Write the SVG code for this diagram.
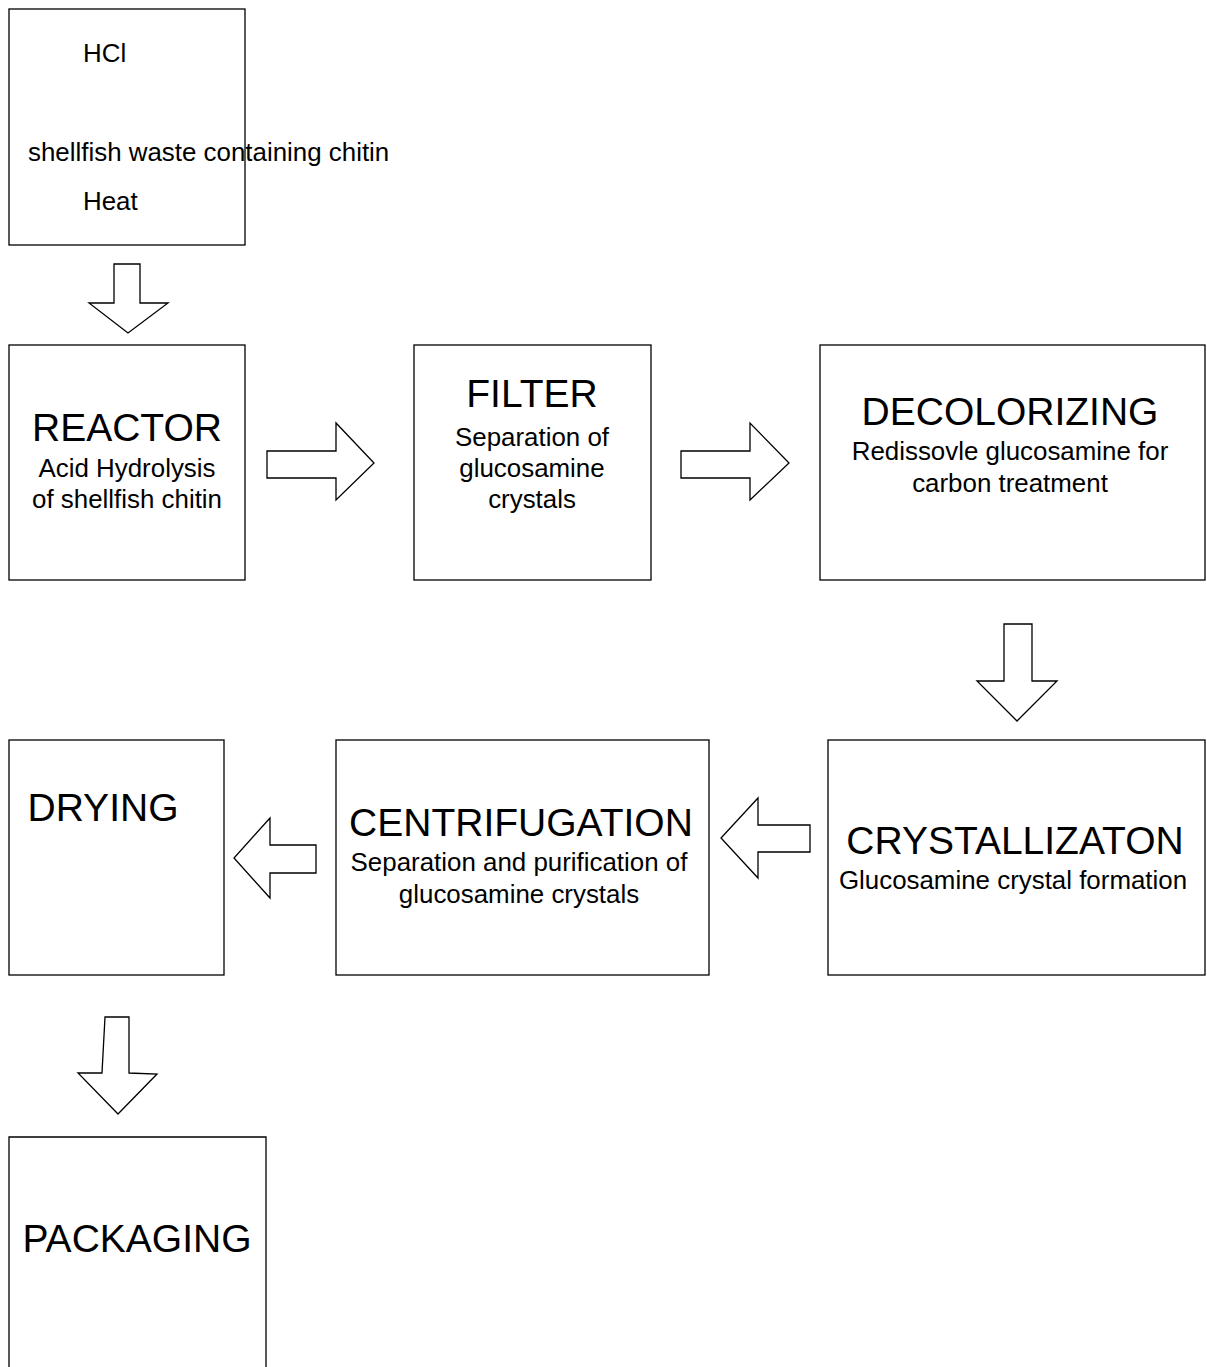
<svg xmlns="http://www.w3.org/2000/svg" width="1207" height="1367" viewBox="0 0 1207 1367">
<style>
.box{fill:#fff;stroke:#000;stroke-width:1.3}
.arr{fill:#fff;stroke:#000;stroke-width:1.3;stroke-linejoin:miter}
text{font-family:"Liberation Sans",Arial,sans-serif;fill:#000}
.t{font-size:39px;text-anchor:middle}
.s{font-size:25.9px;text-anchor:middle}
.l{font-size:25.9px}
</style>
<rect width="1207" height="1367" fill="#fff"/>
<g id="input">
<rect class="box" x="9" y="9" width="236" height="236"/>
<text class="l" x="83" y="62">HCl</text>
<text class="l" x="28" y="161">shellfish waste containing chitin</text>
<text class="l" x="83" y="210">Heat</text>
</g>
<g id="reactor">
<rect class="box" x="9" y="345" width="236" height="235"/>
<text class="t" x="127" y="441">REACTOR</text>
<text class="s" x="127" y="477">Acid Hydrolysis</text>
<text class="s" x="127" y="508">of shellfish chitin</text>
</g>
<g id="filter">
<rect class="box" x="414" y="345" width="237" height="235"/>
<text class="t" x="532" y="407">FILTER</text>
<text class="s" x="532" y="446">Separation of</text>
<text class="s" x="532" y="477">glucosamine</text>
<text class="s" x="532" y="508">crystals</text>
</g>
<g id="decolorizing">
<rect class="box" x="820" y="345" width="385" height="235"/>
<text class="t" x="1010" y="425">DECOLORIZING</text>
<text class="s" x="1010" y="460">Redissovle glucosamine for</text>
<text class="s" x="1010" y="492">carbon treatment</text>
</g>
<g id="crystallization">
<rect class="box" x="828" y="740" width="377" height="235"/>
<text class="t" x="1015" y="854">CRYSTALLIZATON</text>
<text class="s" x="1013" y="889">Glucosamine crystal formation</text>
</g>
<g id="centrifugation">
<rect class="box" x="336" y="740" width="373" height="235"/>
<text class="t" x="521" y="836">CENTRIFUGATION</text>
<text class="s" x="519" y="871">Separation and purification of</text>
<text class="s" x="519" y="903">glucosamine crystals</text>
</g>
<g id="drying">
<rect class="box" x="9" y="740" width="215" height="235"/>
<text class="t" x="103" y="821">DRYING</text>
</g>
<g id="packaging">
<path class="box" d="M9,1380 V1137 H266 V1380"/>
<text class="t" x="137" y="1252">PACKAGING</text>
</g>
<g id="connectors">
<polygon class="arr" points="114,264 140,264 140,303 168,303 128,333 89,303 114,303"/>
<polygon class="arr" points="267,451 336,451 336,423 374,463 336,500 336,478 267,478"/>
<polygon class="arr" points="681,451 750,451 750,423 789,463 750,500 750,478 681,478"/>
<polygon class="arr" points="1004,624 1032,624 1032,681 1057,681 1017,721 977,681 1004,681"/>
<polygon class="arr" points="810,825 758,825 758,798 721,838 758,878 758,852 810,852"/>
<polygon class="arr" points="316,845 270,845 270,818 234,858 270,898 270,873 316,873"/>
<polygon class="arr" points="105,1017 129,1017 129,1073 157,1074 118,1114 78,1073 102,1073"/>
</g>
</svg>
